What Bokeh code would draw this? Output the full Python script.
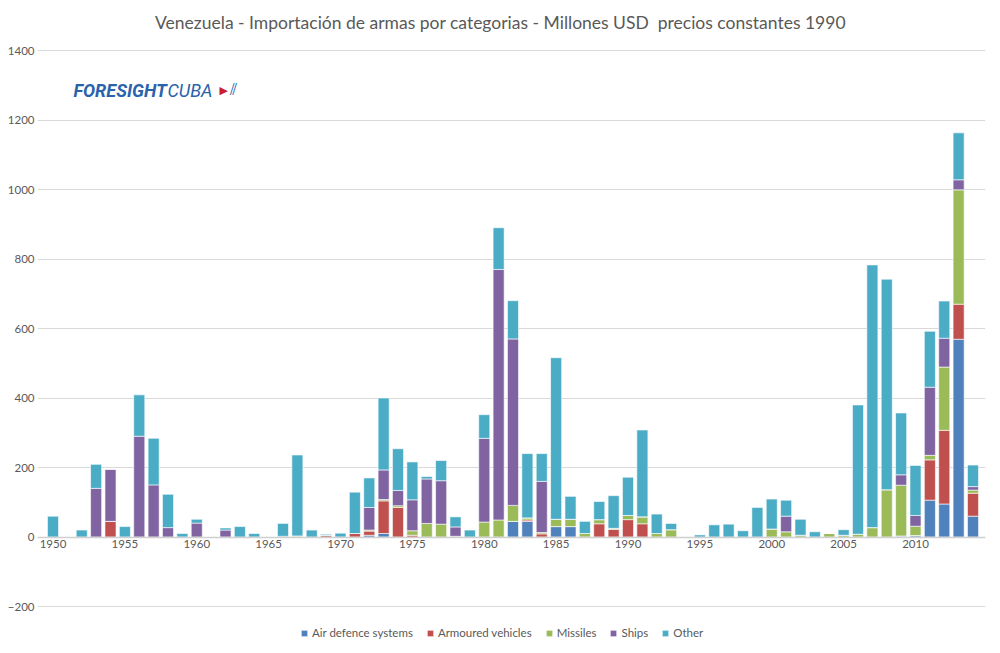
from bokeh.plotting import figure
from bokeh.models import Range1d, FixedTicker, Label, Legend, LegendItem, ColumnDataSource
from bokeh.embed import file_html
from bokeh.resources import INLINE

years = list(range(1950, 2015))
air = [0,0,0,0,0,0,0,0,0,0, 0,0,0,0,0,0,0,0,0,0, 0,0,5,10,0,0,0,0,0,0,
       0,0,45,45,0,30,30,0,0,0, 0,0,0,0,0,0,0,0,0,0, 0,0,0,0,0,0,0,0,0,3,
       4,106,95,569,60]
armoured = [0,0,0,0,45,0,0,0,0,0, 0,0,0,0,0,0,0,0,0,5, 0,10,12,94,85,5,0,0,2,0,
            0,0,0,4,9,0,0,0,38,22, 50,38,0,0,0,0,0,0,0,0, 0,0,0,0,0,0,0,0,0,0,
            0,116,212,101,66]
missiles = [0,0,0,0,0,0,0,0,0,0, 0,0,0,0,0,0,0,3,0,0, 0,0,3,4,5,13,39,37,0,0,
            43,49,46,6,4,21,21,10,12,3, 12,20,10,21,0,0,0,0,0,0, 23,15,5,0,10,5,8,27,136,146,
            27,13,182,329,9]
ships = [0,0,0,140,150,0,290,150,27,0, 40,0,20,0,0,0,2,0,0,0, 0,0,65,85,44,89,128,125,27,0,
         241,721,479,0,147,0,0,0,0,0, 0,0,0,0,0,0,0,0,0,0, 0,45,0,0,0,0,0,0,0,30,
         31,196,83,29,10]
other = [60,0,20,69,0,30,119,134,96,10, 11,0,6,30,10,0,37,233,20,3, 11,119,85,207,120,109,7,58,29,20,
         68,120,110,185,80,465,66,35,52,94, 110,250,56,18,0,6,35,37,18,85, 86,46,46,15,0,16,372,756,606,178,
         144,161,107,135,62]

categories = ["Air defence systems", "Armoured vehicles", "Missiles", "Ships", "Other"]
colors = ["#4F81BD", "#C0504D", "#9BBB59", "#8064A2", "#4BACC6"]
y_ticks = [-200, 0, 200, 400, 600, 800, 1000, 1200, 1400]
x_ticks = list(range(1950, 2015, 5))

src = ColumnDataSource(dict(year=years, **{c: v for c, v in zip(categories, [air, armoured, missiles, ships, other])}))

FONT = "Lato"
GRAY = "#595959"

W, H = 1000, 653
left, right = 37, 15
px_per_year = 14.375
c1950 = 52.5
x_start = 1950 - (c1950 - left) / px_per_year
x_end = 1950 + (W - right - c1950) / px_per_year
px_per_unit = (606 - 50) / 1600.0
y_top = 1400 + 50 / px_per_unit
y_bot = -200 - (H - 606) / px_per_unit

p = figure(width=W, height=H, output_backend="svg", toolbar_location=None,
           x_range=Range1d(x_start, x_end), y_range=Range1d(y_bot, y_top),
           min_border_left=left, min_border_right=right, min_border_top=0, min_border_bottom=0)
p.outline_line_color = None
p.background_fill_color = "white"
p.border_fill_color = "white"

rs = p.vbar_stack(categories, x="year", width=0.77, color=colors, source=src,
                  line_color="white", line_width=1, line_alpha=0.6)

# axes
p.xaxis.fixed_location = 0
p.xaxis.ticker = FixedTicker(ticks=x_ticks)
p.xaxis.axis_line_color = "#D0D0D0"
p.xaxis.axis_line_width = 1.5
p.xaxis.major_tick_line_color = None
p.xaxis.minor_tick_line_color = None
p.xaxis.major_tick_out = 0
p.xaxis.major_tick_in = 0
p.xaxis.major_label_text_font = FONT
p.xaxis.major_label_text_font_size = "11.5px"
p.xaxis.major_label_text_color = GRAY
p.xaxis.major_label_standoff = 3

p.yaxis.ticker = FixedTicker(ticks=y_ticks)
p.yaxis.axis_line_color = None
p.yaxis.major_tick_line_color = None
p.yaxis.minor_tick_line_color = None
p.yaxis.major_tick_out = 0
p.yaxis.major_tick_in = 0
p.yaxis.major_label_text_font = FONT
p.yaxis.major_label_text_font_size = "11.5px"
p.yaxis.major_label_text_color = GRAY
p.yaxis.major_label_standoff = 3

p.xgrid.grid_line_color = None
p.ygrid.ticker = FixedTicker(ticks=y_ticks)
p.ygrid.grid_line_color = "#D9D9D9"
p.ygrid.grid_line_width = 1


def yv(py):
    return 1400 - (py - 50) / px_per_unit


def xv(px):
    return 1950 + (px - c1950) / px_per_year


p.add_layout(Label(x=xv(500), y=yv(22),
                   text="Venezuela - Importación de armas por categorias - Millones USD\u00a0 precios constantes 1990",
                   text_align="center", text_baseline="middle", text_font=FONT, text_font_size="17.5px",
                   text_color=GRAY))

# logo
LOGO = "#2A63AC"
LOGO_FONT = "Roboto"
p.add_layout(Label(x=xv(73), y=yv(90), text="FORESIGHT", text_baseline="middle",
                   text_font=LOGO_FONT, text_font_style="bold italic",
                   text_font_size="18px", text_color=LOGO))
p.add_layout(Label(x=xv(167), y=yv(90), text="CUBA", text_baseline="middle",
                   text_font=LOGO_FONT, text_font_style="italic",
                   text_font_size="18px", text_color=LOGO))
p.add_layout(Label(x=xv(219), y=yv(90), text="▶", text_baseline="middle",
                   text_font="DejaVu Sans", text_font_size="11px", text_color="#C8202F"))
p.add_layout(Label(x=xv(229), y=yv(89), text="⫽", text_baseline="middle",
                   text_font="DejaVu Sans", text_font_size="16px", text_color=LOGO))

items = [LegendItem(label=c, renderers=[r]) for c, r in zip(categories, rs)]
legend = Legend(items=items, orientation="horizontal", location=(300 - left, 14),
                glyph_width=8, glyph_height=8, label_standoff=4, spacing=13,
                label_text_font=FONT, label_text_font_size="11.5px", label_text_color=GRAY,
                background_fill_alpha=0, border_line_color=None, margin=0, padding=0)
p.add_layout(legend)

open("out.html", "w").write(file_html(p, INLINE))
